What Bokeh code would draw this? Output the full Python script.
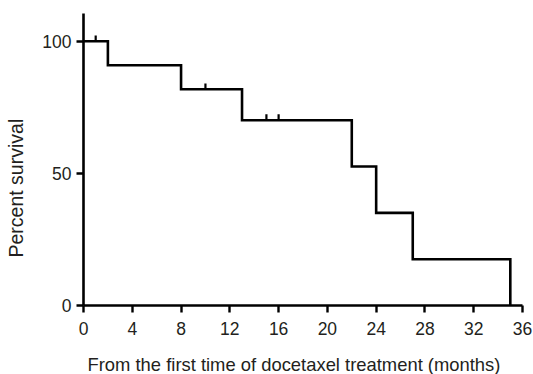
from bokeh.plotting import figure
from bokeh.models import Range1d, FixedTicker, Title
from bokeh.embed import file_html
from bokeh.resources import INLINE

# Kaplan-Meier step values
times = [0, 2, 8, 13, 22, 24, 27, 35]
survival = [100, 90.91, 81.82, 70.13, 52.60, 35.06, 17.53, 0]

# censored observations
censor_times = [1, 10, 15, 16]
censor_surv = [100, 81.82, 70.13, 70.13]

x_ticks = [0, 4, 8, 12, 16, 20, 24, 28, 32, 36]
y_ticks = [0, 50, 100]

x_title = "From the first time of docetaxel treatment (months)"
y_title = "Percent survival"

FONT = "Liberation Sans"
TXT = "#231f20"

p = figure(width=533, height=374, output_backend="svg", toolbar_location=None,
           x_range=Range1d(0, 36), y_range=Range1d(0, 110.5),
           min_border_left=83, min_border_right=11, min_border_top=13, min_border_bottom=68)
p.outline_line_color = None
p.xgrid.visible = False
p.ygrid.visible = False
p.background_fill_color = "white"
p.border_fill_color = "white"

p.step(times, survival, mode="after", line_color="black", line_width=2.6, line_join="miter")
tick_len = [s + 2.2 for s in censor_surv]
p.segment(x0=censor_times, y0=censor_surv, x1=censor_times, y1=tick_len,
          line_color="black", line_width=2.2)

for ax in (p.xaxis[0], p.yaxis[0]):
    ax.axis_line_width = 2.6
    ax.axis_line_color = "black"
    ax.major_tick_line_width = 2.4
    ax.major_tick_line_color = "black"
    ax.major_tick_out = 7
    ax.major_tick_in = 0
    ax.minor_tick_line_color = None
    ax.major_label_text_font = FONT
    ax.major_label_text_font_size = "17.5px"
    ax.major_label_text_color = TXT

p.xaxis.ticker = FixedTicker(ticks=x_ticks)
p.yaxis.ticker = FixedTicker(ticks=y_ticks)
p.xaxis.major_label_standoff = 9
p.yaxis.major_label_standoff = 5

# axis titles as side titles, offset as in the original
p.add_layout(Title(text=x_title, align="left", offset=4, standoff=0,
                   padding=dict(top=14, bottom=0, left=0, right=0),
                   text_font=FONT, text_font_size="18.4px", text_font_style="normal",
                   text_color=TXT), "below")
p.add_layout(Title(text=y_title, align="left", offset=48, standoff=4,
                   padding=dict(top=0, bottom=11, left=0, right=0),
                   text_font=FONT, text_font_size="19.5px", text_font_style="normal",
                   text_color=TXT), "left")

open("out.html", "w").write(file_html(p, INLINE))
